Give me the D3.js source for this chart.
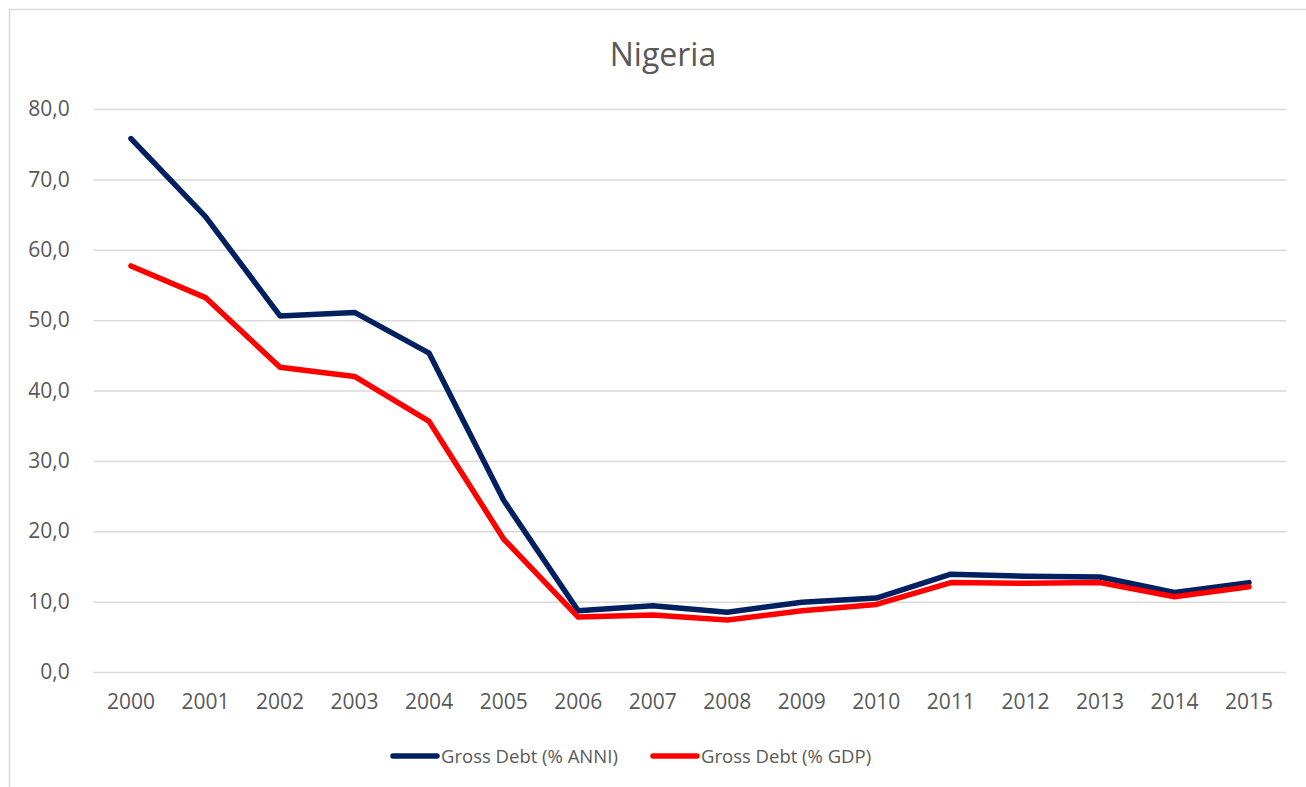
<!DOCTYPE html>
<html>
<head>
<meta charset="utf-8">
<script src="https://cdn.jsdelivr.net/npm/d3@7/dist/d3.min.js"></script>
<style>
  html, body { margin: 0; padding: 0; background: #fff; }
  svg { display: block; font-family: "Open Sans", "DejaVu Sans", sans-serif; }
</style>
</head>
<body>
<svg id="chart" width="1306" height="787"></svg>
<script>
// Nigeria gross debt, 2000-2015
const years = ["2000","2001","2002","2003","2004","2005","2006","2007","2008","2009","2010","2011","2012","2013","2014","2015"];
const debtANNI = [75.8, 64.7, 50.6, 51.1, 45.3, 24.4, 8.7, 9.4, 8.5, 9.9, 10.5, 13.9, 13.6, 13.5, 11.3, 12.7];
const debtGDP  = [57.7, 53.2, 43.3, 42.0, 35.6, 18.9, 7.8, 8.1, 7.4, 8.7, 9.6, 12.7, 12.6, 12.7, 10.7, 12.1];
const yTicks = [0, 10, 20, 30, 40, 50, 60, 70, 80];
const seriesNames = ["Gross Debt (% ANNI)", "Gross Debt (% GDP)"];
const seriesColors = ["#002060", "#FF0000"];

const svg = d3.select("#chart");
const textColor = "#595959";

// chart frame
svg.append("path")
  .attr("d", "M9.5,787 V9.5 H1306")
  .attr("fill", "none")
  .attr("stroke", "#d9d9d9")
  .attr("stroke-width", 1.5);

const plot = { left: 93.7, right: 1286.3, top: 109, bottom: 672 };

const x = d3.scaleBand().domain(years).range([plot.left, plot.right]);
const y = d3.scaleLinear().domain([0, 80]).range([plot.bottom, plot.top]);

// title
svg.append("text")
  .attr("x", 663).attr("y", 66)
  .attr("text-anchor", "middle")
  .attr("font-size", 32)
  .attr("fill", textColor)
  .text("Nigeria");

// gridlines + y labels
const yAxis = d3.axisLeft(y).tickValues(yTicks)
  .tickSize(-(plot.right - plot.left))
  .tickPadding(24)
  .tickFormat(d => d3.format(".1f")(d).replace(".", ","));
const gy = svg.append("g").attr("transform", `translate(${plot.left},0)`).call(yAxis);
gy.select(".domain").remove();
gy.selectAll(".tick line").attr("stroke", "#d9d9d9").attr("stroke-width", 1.5);
gy.selectAll(".tick text").attr("fill", textColor).attr("font-size", 21)
  .attr("font-family", "Open Sans, sans-serif");

// x labels
const xAxis = d3.axisBottom(x).tickSize(0).tickPadding(22);
const gx = svg.append("g").attr("transform", `translate(0,${plot.bottom})`).call(xAxis);
gx.select(".domain").remove();
gx.selectAll(".tick text").attr("fill", textColor).attr("font-size", 21)
  .attr("font-family", "Open Sans, sans-serif");

// lines
const line = d3.line()
  .x((d, i) => x(years[i]) + x.bandwidth() / 2)
  .y(d => y(d));

[debtANNI, debtGDP].forEach((vals, k) => {
  svg.append("path")
    .datum(vals)
    .attr("d", line)
    .attr("fill", "none")
    .attr("stroke", seriesColors[k])
    .attr("stroke-width", 5.5)
    .attr("stroke-linejoin", "round")
    .attr("stroke-linecap", "round");
});

// legend
const legendItems = [{ x0: 391, name: seriesNames[0], color: seriesColors[0] },
                     { x0: 651, name: seriesNames[1], color: seriesColors[1] }];
const lg = svg.append("g");
legendItems.forEach(it => {
  lg.append("line")
    .attr("x1", it.x0 + 2).attr("x2", it.x0 + 46)
    .attr("y1", 756).attr("y2", 756)
    .attr("stroke", it.color).attr("stroke-width", 5.5)
    .attr("stroke-linecap", "round");
  lg.append("text")
    .attr("x", it.x0 + 50).attr("y", 763)
    .attr("font-size", 18.5)
    .attr("fill", textColor)
    .text(it.name);
});
</script>
</body>
</html>
